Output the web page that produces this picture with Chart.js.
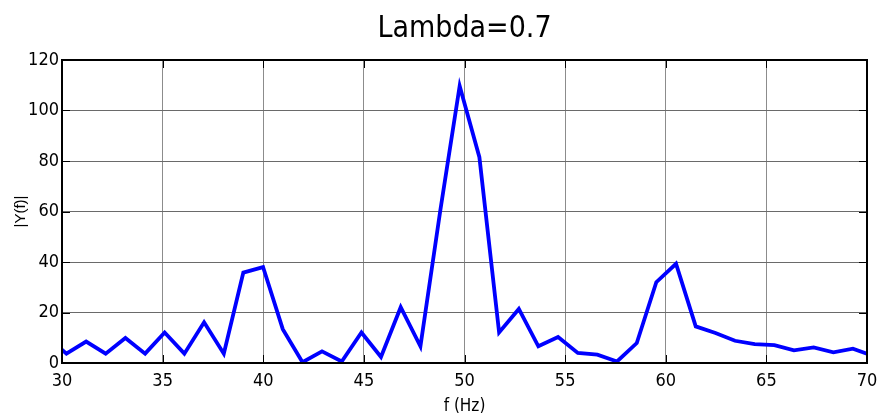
<!DOCTYPE html>
<html>
<head>
<meta charset="utf-8">
<script src="https://cdn.jsdelivr.net/npm/chart.js@4/dist/chart.umd.min.js"></script>
<style>
  html, body { margin: 0; padding: 0; background: #fff; }
  canvas { display: block; }
</style>
</head>
<body>
<canvas id="spectrum" width="877" height="419"></canvas>
<script>
// Magnitude spectrum |Y(f)| around the 50 Hz fundamental, lambda = 0.7.
// Bins run a little past both ends of the axis; the line is clipped at 30 and 70 Hz.
const FREQ_HZ = [
  29.25, 30.22, 31.20, 32.17, 33.15, 34.13, 35.10, 36.08, 37.06, 38.04,
  39.01, 39.99, 40.97, 41.95, 42.92, 43.90, 44.88, 45.85, 46.83, 47.81,
  48.79, 49.76, 50.74, 51.72, 52.70, 53.67, 54.65, 55.63, 56.60, 57.58,
  58.56, 59.53, 60.51, 61.49, 62.47, 63.44, 64.42, 65.40, 66.37, 67.35,
  68.33, 69.30, 70.28
];
const MAGNITUDE = [
  10.5, 3.7, 8.5, 3.7, 9.9, 3.7, 12.1, 3.7, 16.1, 3.7,
  35.8, 38.0, 13.4, 0.3, 4.6, 0.6, 12.1, 2.4, 22.1, 6.6,
  60.0, 109.7, 81.5, 12.1, 21.4, 6.6, 10.3, 4.0, 3.3, 0.6,
  7.9, 32.0, 39.3, 14.5, 11.9, 8.8, 7.5, 7.1, 5.0, 6.2,
  4.2, 5.7, 2.9
];
const X_RANGE = [30, 70];
const Y_RANGE = [0, 120];
const X_STEP = 5;
const Y_STEP = 20;
const TITLE = "Lambda=0.7";

const FONT = "'Liberation Sans Narrow', 'DejaVu Sans Condensed', 'Liberation Sans', Arial, sans-serif";

// Axes box with inward tick marks on all four sides, plus the title
// centred over the plot area.
const axesBox = {
  id: "axesBox",
  afterDatasetsDraw(chart) {
    const { ctx, chartArea: a, scales } = chart;
    const tickLen = 8;
    ctx.save();
    ctx.strokeStyle = "#000";
    ctx.lineWidth = 1;
    ctx.beginPath();
    scales.x.ticks.forEach((t) => {
      const px = Math.round(scales.x.getPixelForValue(t.value)) + 0.5;
      ctx.moveTo(px, a.bottom); ctx.lineTo(px, a.bottom - tickLen);
      ctx.moveTo(px, a.top); ctx.lineTo(px, a.top + tickLen);
    });
    scales.y.ticks.forEach((t) => {
      const py = Math.round(scales.y.getPixelForValue(t.value)) + 0.5;
      ctx.moveTo(a.left, py); ctx.lineTo(a.left + tickLen, py);
      ctx.moveTo(a.right, py); ctx.lineTo(a.right - tickLen, py);
    });
    ctx.stroke();
    ctx.lineWidth = 2;
    ctx.strokeRect(a.left, a.top, a.right - a.left, a.bottom - a.top);
    ctx.restore();
  },
  afterDraw(chart) {
    const { ctx, chartArea: a } = chart;
    ctx.save();
    ctx.fillStyle = "#000";
    ctx.font = "30px " + FONT;
    ctx.textAlign = "center";
    ctx.textBaseline = "middle";
    ctx.fillText(TITLE, (a.left + a.right) / 2, 29);
    ctx.restore();
  },
};

new Chart(document.getElementById("spectrum"), {
  type: "line",
  data: {
    datasets: [{
      data: FREQ_HZ.map((f, i) => ({ x: f, y: MAGNITUDE[i] })),
      borderColor: "#0000ff",
      borderWidth: 3.8,
      pointRadius: 0,
      tension: 0,
      fill: false,
    }],
  },
  options: {
    responsive: false,
    devicePixelRatio: 1,
    animation: false,
    layout: { padding: { top: 60, right: 10, left: 0, bottom: 0 } },
    plugins: {
      legend: { display: false },
      title: { display: false },
      tooltip: { enabled: false },
    },
    scales: {
      x: {
        type: "linear",
        min: X_RANGE[0],
        max: X_RANGE[1],
        afterFit: (s) => {
          s.height = 56;
          s.paddingLeft = 0;
          s.paddingRight = 0;
        },
        ticks: {
          stepSize: X_STEP,
          padding: 8,
          color: "#000",
          font: { family: FONT, size: 18 },
        },
        grid: { color: "#8c8c8c", lineWidth: 1, drawTicks: false },
        border: { display: false },
        title: {
          display: true,
          text: "f (Hz)",
          color: "#000",
          font: { family: FONT, size: 17 },
          padding: { top: 0, bottom: 2 },
        },
      },
      y: {
        min: Y_RANGE[0],
        max: Y_RANGE[1],
        afterFit: (s) => { s.width = 62; },
        ticks: {
          stepSize: Y_STEP,
          padding: 3,
          color: "#000",
          font: { family: FONT, size: 18 },
        },
        grid: { color: "#6a6a6a", lineWidth: 1, drawTicks: false },
        border: { display: false },
        title: {
          display: true,
          text: "|Y(f)|",
          color: "#000",
          font: { family: "'Liberation Sans', Arial, sans-serif", size: 15 },
          padding: { top: 12, bottom: 0 },
        },
      },
    },
  },
  plugins: [axesBox],
});
</script>
</body>
</html>
